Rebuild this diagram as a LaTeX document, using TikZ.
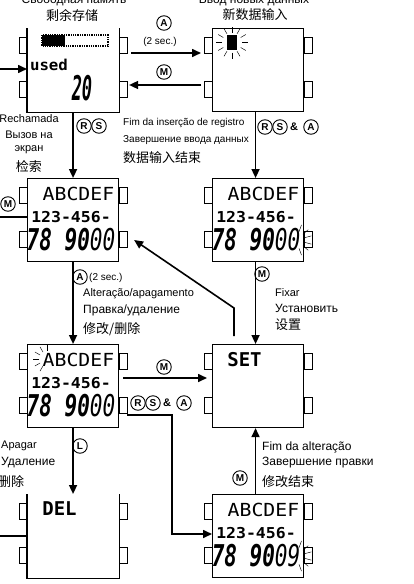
\documentclass[tikz,border=0pt]{standalone}
\usepackage{fontspec}
\setmainfont{Liberation Sans}
\newfontfamily\cjk{Noto Sans CJK SC}
\newfontfamily\lcdf{DejaVu Sans Mono}
\usetikzlibrary{arrows.meta,calc}
\newcommand\btns[1]{%
 \draw[btn] ($(#1.north west)+(-8,9)$) rectangle ($(#1.north west)+(0,25)$);
 \draw[btn] ($(#1.north west)+(-8,53)$) rectangle ($(#1.north west)+(0,69)$);
 \draw[btn] ($(#1.north east)+(0,9)$) rectangle ($(#1.north east)+(8,25)$);
 \draw[btn] ($(#1.north east)+(0,53)$) rectangle ($(#1.north east)+(8,69)$);}
\newcommand\lcdface[2]{%
 \node[lcdA] (#1a) at ($(#1.north west)+(51.5,22)$) {\scalebox{1.1}[1]{ABCDEF}};
 \node[lcdB] (#1b) at ($(#1.north west)+(44,44)$) {\scalebox{1.1}[1]{123-456-}};
 \node[lcdC] (#1c) at ($(#1.north west)+(44,72)$) {\scalebox{0.7}[1]{78 90{\mdseries#2}}};}
\newcommand\rayset[4]{\foreach \ang in {#4} \draw[ray] ($(#1)+(\ang:#2)$) -- ($(#1)+(\ang:#3)$);}
\begin{document}
\begin{tikzpicture}[x=1pt,y=-1pt,
  watch/.style={draw,line width=1.1pt,minimum width=91pt,minimum height=83pt,inner sep=0pt,anchor=north west},
  btn/.style={line width=0.8pt},
  arr/.style={line width=1.6pt,-{Triangle[length=9pt,width=8pt]}},
  ln/.style={line width=1.6pt},
  ray/.style={line width=0.45pt},
  key/.style={circle,draw,line width=0.9pt,inner sep=0pt,minimum size=14.5pt,font=\fontsize{10}{10}\selectfont\bfseries},
  amp/.style={inner sep=0pt,font=\fontsize{11}{11}\selectfont\bfseries},
  lab/.style={inner sep=0pt,anchor=west,font=\fontsize{11}{13}\selectfont},
  labm/.style={inner sep=0pt,anchor=west,font=\fontsize{12}{14}\selectfont},
  labs/.style={inner sep=0pt,anchor=west,font=\fontsize{10}{12}\selectfont},
  zh/.style={inner sep=0pt,anchor=west,font=\cjk\fontsize{13}{15}\selectfont},
  lcdA/.style={anchor=base,inner sep=0pt,font=\lcdf\fontsize{18}{18}\selectfont},
  lcdB/.style={anchor=base,inner sep=0pt,font=\lcdf\bfseries\fontsize{15}{15}\selectfont},
  lcdC/.style={anchor=base,inner sep=0pt,font=\lcdf\bfseries\itshape\fontsize{30}{30}\selectfont},
  big/.style={anchor=base,inner sep=0pt,font=\lcdf\bfseries\fontsize{19}{19}\selectfont}]
\useasboundingbox (0,0) rectangle (414,584);
\clip (0,0) rectangle (414,584);

% watches
\node[watch,draw=none] (w1) at (27,28) {};
\draw[line width=1.1pt] (w1.north west) -- (w1.south west) -- (w1.south east) -- (w1.north east);
\node[watch] (w2) at (212,28) {};
\node[watch] (w3) at (27,178) {};
\node[watch] (w4) at (212,178) {};
\node[watch] (w5) at (27,344) {};
\node[watch] (w6) at (212,344) {};
\node[watch,draw=none] (w7) at (27,494) {};
\draw[line width=1.1pt] (w7.north west) -- (w7.south west) -- (w7.south east) -- (w7.north east);
\node[watch] (w8) at (212,494) {};
\btns{w1}\btns{w2}\btns{w3}\btns{w4}\btns{w5}\btns{w6}\btns{w7}\btns{w8}

% watch 1 display
\fill ($(w1.north west)+(15,7)$) rectangle ($(w1.north west)+(38,18)$);
\draw[densely dotted,line width=1.3pt] ($(w1.north west)+(15,7)$) rectangle ($(w1.north west)+(81,18)$);
\node[lcdB] (w1u) at ($(w1.north west)+(22,42)$) {\scalebox{1.05}[1]{used}};
\node[anchor=base,inner sep=0pt,font=\lcdf\bfseries\itshape\fontsize{34}{34}\selectfont] (w1n) at ($(w1.north west)+(55,72)$) {\scalebox{0.5}[1]{20}};

% watch 2 cursor
\fill ($(w2.north west)+(15,7)$) rectangle ($(w2.north west)+(25,22)$);
\coordinate (c2) at ($(w2.north west)+(20,14.5)$);
\rayset{c2}{10pt}{16pt}{0,30,60,90,120,150,180,210,240,270,300,330}

% lcd faces
\lcdface{w3}{00}
\lcdface{w4}{00}
\lcdface{w5}{00}
\lcdface{w8}{09}
\coordinate (c4) at ($(w4.north west)+(84,62)$);
\rayset{c4}{9pt}{16pt}{-70,-40,-15,15,40,70}
\coordinate (c8) at ($(w8.north west)+(84,62)$);
\rayset{c8}{9pt}{16pt}{-70,-40,-15,15,40,70}
\coordinate (c5) at ($(w5.north west)+(20,15)$);
\rayset{c5}{8pt}{14pt}{90,120,150,180,210,240}
\node[big] (w6t) at ($(w6.north west)+(32.5,22)$) {SET};
\node[big] (w7t) at ($(w7.north west)+(32.5,21)$) {DEL};

% connectors
\coordinate (in1) at (0,69);
\draw[arr] (in1) -- (in1 -| w1.west);
\draw[arr] ($(w1.north east)+(12,25)$) -- ($(w2.north west)+(-11,25)$);
\draw[arr] ($(w2.north west)+(-11,57)$) -- ($(w1.north east)+(10,57)$);
\draw[arr] (w1.south) -- (w3.north);
\draw[arr] ($(w2.south)+(-2.5,0)$) -- ($(w4.north)+(-2.5,0)$);
\coordinate (out3) at (0,217);
\draw[ln] (out3) -- (out3 -| w3.west);
\coordinate (bend) at (234,308);
\draw[arr] ($(w6.north west)+(22,-8)$) -- (bend) -- ($(w3.north east)+(15,62)$);
\draw[arr] (w3.south) -- (w5.north);
\draw[arr] ($(w4.south)+(-2.5,0)$) -- ($(w6.north)+(-2.5,0)$);
\draw[arr] ($(w5.north east)+(4,34)$) -- ($(w6.north west)+(-5,34)$);
\draw[arr] ($(w5.north east)+(8,71)$) -| ($(w8.north west)+(-40,40)$) -- ($(w8.north west)+(0,40)$);
\draw[arr] (w5.south) -- (w7.north);
\coordinate (out7) at (0,536);
\draw[ln] (out7) -- (out7 -| w7.west);
\draw[arr] ($(w8.north)+(-2.5,0)$) -- ($(w6.south)+(-2.5,0)$);

% keys
\node[key] (kA1) at (164,23) {A};
\node[labs,anchor=center] (s1) at (160,42) {(2 sec.)};
\node[key] (kM1) at (164,72) {M};
\node[key] (kR1) at (84,126) {R};
\node[key] (kS1) at (99,126) {S};
\node[key] (kR2) at (265,127) {R};
\node[key] (kS2) at (280,127) {S};
\node[amp] (am2) at (294,127) {\&};
\node[key] (kA2) at (311,127) {A};
\node[key] (kM3) at (8,204) {M};
\node[key] (kA3) at (80,277) {A};
\node[labs] (s3) at (89,278) {(2 sec.)};
\node[key] (kM4) at (262,274) {M};
\node[key] (kM5) at (164,367) {M};
\node[key] (kR5) at (138,403) {R};
\node[key] (kS5) at (153,403) {S};
\node[amp] (am5) at (167,403) {\&};
\node[key] (kA5) at (184,403) {A};
\node[key] (kL5) at (80,446) {L};
\node[key] (kM8) at (240,478) {M};

% labels
\node[lab,anchor=base,font=\fontsize{12}{12}\selectfont] (t1r) at (74,3.5) {Свободная память};
\node[lab,anchor=base,font=\fontsize{12}{12}\selectfont] (t2r) at (254,3.5) {Ввод новых данных};
\node[zh,anchor=center] (t1) at (72,15) {剩余存储};
\node[zh,anchor=center] (t2) at (255,15) {新数据输入};
\node[lab,anchor=center] (l1a) at (29,119) {Rechamada};
\node[lab,anchor=center] (l1b) at (29,135) {Вызов на};
\node[lab,anchor=center] (l1c) at (29,150) {экран};
\node[zh,anchor=center] (l1d) at (29,167) {检索};
\node[labs] (l2a) at (123,123) {Fim da inserção de registro};
\node[labs] (l2b) at (123,140) {Завершение ввода данных};
\node[zh] (l2c) at (123,158) {数据输入结束};
\node[lab] (l3a) at (83,294) {Alteração/apagamento};
\node[labm] (l3b) at (83,310) {Правка/удаление};
\node[zh] (l3c) at (83,329) {修改/删除};
\node[lab] (l4a) at (275,293) {Fixar};
\node[labm] (l4b) at (275,308) {Установить};
\node[zh] (l4c) at (275,325) {设置};
\node[lab] (l5a) at (1,446) {Apagar};
\node[labm] (l5b) at (1,463) {Удаление};
\node[zh] (l5c) at (-2,482) {删除};
\node[labm] (l6a) at (262,447) {Fim da alteração};
\node[labm] (l6b) at (262,463) {Завершение правки};
\node[zh] (l6c) at (262,482) {修改结束};
\end{tikzpicture}
\end{document}
